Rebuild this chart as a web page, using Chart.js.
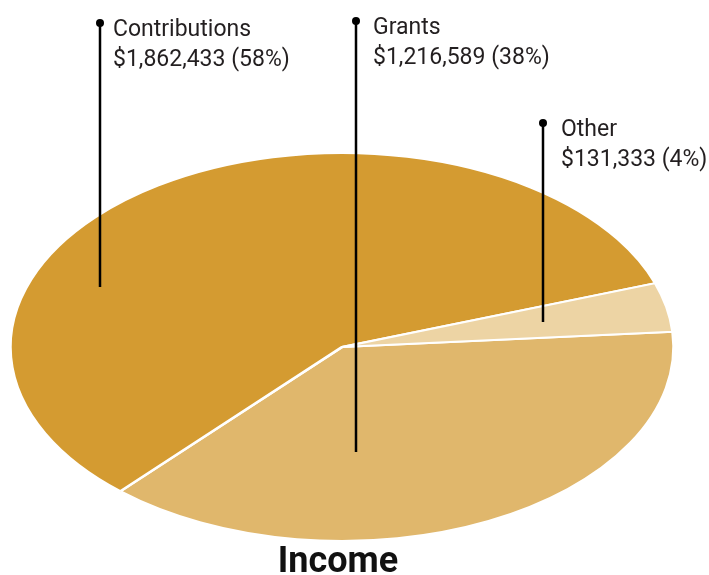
<!DOCTYPE html>
<html>
<head>
<meta charset="utf-8">
<script src="https://cdn.jsdelivr.net/npm/chart.js@4.4.1/dist/chart.umd.min.js"></script>
<style>
  html, body { margin: 0; padding: 0; background: #fff; }
  #wrap { width: 709px; height: 575px; }
</style>
</head>
<body>
<div id="wrap"><canvas id="myChart" width="709" height="575"></canvas></div>
<script>
// data, clockwise from the right edge
const categories = ['Grants', 'Contributions', 'Other'];
const amounts = [1216589, 1862433, 131333];
const percentLabels = ['38%', '58%', '4%'];
const sliceColors = ['#e0b76c', '#d49b31', '#edd4a4'];
const chartTitle = 'Income';

// layout: the pie is drawn as a flattened ellipse
const ellipse = { cx: 342, cy: 347, rx: 332, ry: 194 };
// callout lines: dot at top, line ends inside the slice
const callouts = {
    Contributions: { x: 100, top: 23, bottom: 287, textX: 113 },
    Grants: { x: 356, top: 21, bottom: 452, textX: 373 },
    Other: { x: 543, top: 123, bottom: 322, textX: 561 }
};

const ctx = document.getElementById('myChart').getContext('2d');

function money(v) {
    return '$' + v.toLocaleString('en-US');
}

// squash the round pie into an ellipse
const ellipsePlugin = {
    id: 'ellipse',
    beforeDatasetsDraw(chart) {
        const arc = chart.getDatasetMeta(0).data[0];
        const c = chart.ctx;
        c.save();
        c.translate(ellipse.cx, ellipse.cy);
        c.scale(ellipse.rx / arc.outerRadius, ellipse.ry / arc.outerRadius);
        c.translate(-arc.x, -arc.y);
    },
    afterDatasetsDraw(chart) {
        chart.ctx.restore();
    }
};

// callout lines, labels and title
const labelPlugin = {
    id: 'callouts',
    afterDraw(chart) {
        const c = chart.ctx;
        c.save();
        categories.forEach(function(name, i) {
            const co = callouts[name];
            c.strokeStyle = '#000';
            c.lineWidth = 2.5;
            c.beginPath();
            c.moveTo(co.x, co.top);
            c.lineTo(co.x, co.bottom);
            c.stroke();
            c.fillStyle = '#000';
            c.beginPath();
            c.arc(co.x, co.top, 4, 0, Math.PI * 2);
            c.fill();

            c.fillStyle = '#231f20';
            c.font = '23px Roboto';
            c.textBaseline = 'alphabetic';
            c.textAlign = 'left';
            c.fillText(name, co.textX, co.top + 13);
            c.fillText(money(amounts[i]) + ' (' + percentLabels[i] + ')', co.textX, co.top + 43);
        });
        c.fillStyle = '#111';
        c.font = 'bold 36px Roboto';
        c.textAlign = 'center';
        c.fillText(chartTitle, ellipse.cx - 4, 572);
        c.restore();
    }
};

const myChart = new Chart(ctx, {
    type: 'pie',
    data: {
        labels: categories,
        datasets: [{
            data: amounts,
            backgroundColor: sliceColors,
            borderColor: '#ffffff',
            borderWidth: 3,
            clip: false
        }]
    },
    options: {
        responsive: false,
        animation: false,
        rotation: 85.5,
        plugins: {
            legend: { display: false },
            tooltip: { enabled: false },
            title: { display: false }
        }
    },
    plugins: [ellipsePlugin, labelPlugin]
});
</script>
</body>
</html>
